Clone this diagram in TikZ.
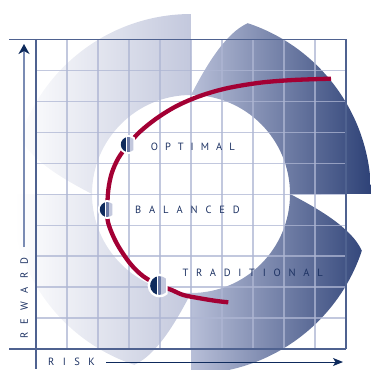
\documentclass[tikz,border=0pt]{standalone}
\usepackage{fontspec}
\setmainfont{PT Sans}
\usetikzlibrary{arrows.meta}
\definecolor{navy}{HTML}{1D3263}
\definecolor{framec}{HTML}{4F6290}
\definecolor{gridc}{HTML}{AEB6D3}
\definecolor{leftend}{HTML}{C3C8DD}
\definecolor{rightstart}{HTML}{B8BFD8}
\definecolor{rightend}{HTML}{2E4277}
\definecolor{redc}{HTML}{A30034}
\definecolor{mkdark}{HTML}{0E2A5C}
\definecolor{mkmid}{HTML}{6B7AA6}
\definecolor{mklight}{HTML}{C3C8DD}
\definecolor{yline}{HTML}{7A8BB3}
\newcommand\dmark[2]{%
\begin{scope}[shift={(#1)},scale=#2]
 \fill[white] (46.8:9.5) arc[start angle=46.8,end angle=313.2,radius=9.5] -- cycle;
 \begin{scope}
  \clip (48.19:7.5) arc[start angle=48.19,end angle=311.81,radius=7.5] -- cycle;
  \fill[mkdark] (-8,-8) rectangle (-2.2,8);
  \fill[mkmid] (-1.5,-8) rectangle (1.2,8);
  \fill[mklight] (1.2,-8) rectangle (8,8);
 \end{scope}
\end{scope}}
\tikzset{
 lbl/.style={font=\fontsize{10.5}{12}\selectfont\addfontfeatures{LetterSpace=#1}, text=navy, inner sep=0pt},
 gridl/.style={draw=gridc, opacity=0.75, line width=1.2pt},
 framel/.style={draw=framec, line width=1.2pt},
 redcurve/.style={draw=redc, line width=4.3pt},
}
\begin{document}
\begin{tikzpicture}[x=1pt,y=1pt]
\useasboundingbox (0,0) rectangle (371,-369);
% left blades
\begin{scope}
 \clip (92,-194) .. controls (65,-180) and (30,-160) .. (20.2,-137.2)
   arc[start angle=161.6,end angle=90,radius=180] -- (191,-95)
   arc[start angle=90,end angle=180,radius=99] -- cycle
   (191,-293) .. controls (177,-320) and (157,-355) .. (134.2,-364.8)
   arc[start angle=-108.4,end angle=-180,radius=180] -- (92,-194)
   arc[start angle=180,end angle=270,radius=99] -- cycle;
 \shade[left color=white,right color=leftend] (15,0) rectangle (191,-380);
\end{scope}
% right blades
\begin{scope}
 \clip (191,-95) .. controls (205,-68) and (225,-33) .. (247.8,-23.2)
   arc[start angle=71.6,end angle=0,radius=180] -- (290,-194)
   arc[start angle=0,end angle=90,radius=99] -- cycle
   (290,-194) .. controls (317,-208) and (352,-228) .. (361.8,-250.8)
   arc[start angle=-18.4,end angle=-90,radius=180] -- (191,-293)
   arc[start angle=-90,end angle=0,radius=99] -- cycle;
 \shade[left color=rightstart,right color=rightend] (191,0) rectangle (371,-380);
\end{scope}
% grid
\foreach \i in {1,...,9} {
 \draw[gridl] ({36+31*\i},-39.3) -- ({36+31*\i},-349);
 \draw[gridl] (36,{-39.3-30.97*\i}) -- (346,{-39.3-30.97*\i});
}
% frame
\draw[framel] (9,-39.3) -- (346,-39.3) -- (346,-349);
\draw[framel] (9,-349) -- (346,-349);
\draw[framel] (36,-39.3) -- (36,-369);
% markers positions
\coordinate (mo) at (128.3,-144.5);
\coordinate (mb) at (107.3,-209.5);
\coordinate (mt) at (159.5,-285.5);
% red curve
\draw[redcurve] plot[smooth,tension=0.55] coordinates {
 (331,-78.7) (293.3,-80) (260,-82.7) (226.7,-88.3) (200,-96) (176.7,-106)
 (156.7,-118.3) (140,-131.7) (mo) (118.3,-158.3) (111.7,-173.3) (108.3,-190)
 (mb) (108.3,-223.3) (116.7,-243.3) (130,-263.3) (143.3,-276.3) (mt)
 (171.7,-290) (183.3,-295) (200,-298.3) (216.7,-301) (228.3,-302.3)};
\dmark{mo}{1}
\dmark{mb}{1}
\dmark{mt}{1.25}
% labels
\node[lbl=67, anchor=west] (opt) at (150.7,-147.3) {OPTIMAL};
\node[lbl=75, anchor=west] (bal) at (135,-209.7) {BALANCED};
\node[lbl=74, anchor=west] (tra) at (182.3,-273) {TRADITIONAL};
\node[lbl=80, anchor=west] (risk) at (48,-361.7) {RISK};
\node[lbl=80, anchor=west, rotate=90] (rew) at (24.3,-339) {REWARD};
% axes arrows
\coordinate (ya0) at (24,-247);
\coordinate (ya1) at (24,-44);
\coordinate (xa0) at (106,-362);
\coordinate (xa1) at (343,-362);
\draw[draw=yline, line width=1.5pt, -{Stealth[length=10pt,width=11pt,inset=3pt,color=mkdark]}] (ya0) -- (ya1);
\draw[draw=mkdark, line width=1pt, -{Stealth[length=10pt,width=8pt,inset=2.5pt]}] (xa0) -- (xa1);
\end{tikzpicture}
\end{document}
